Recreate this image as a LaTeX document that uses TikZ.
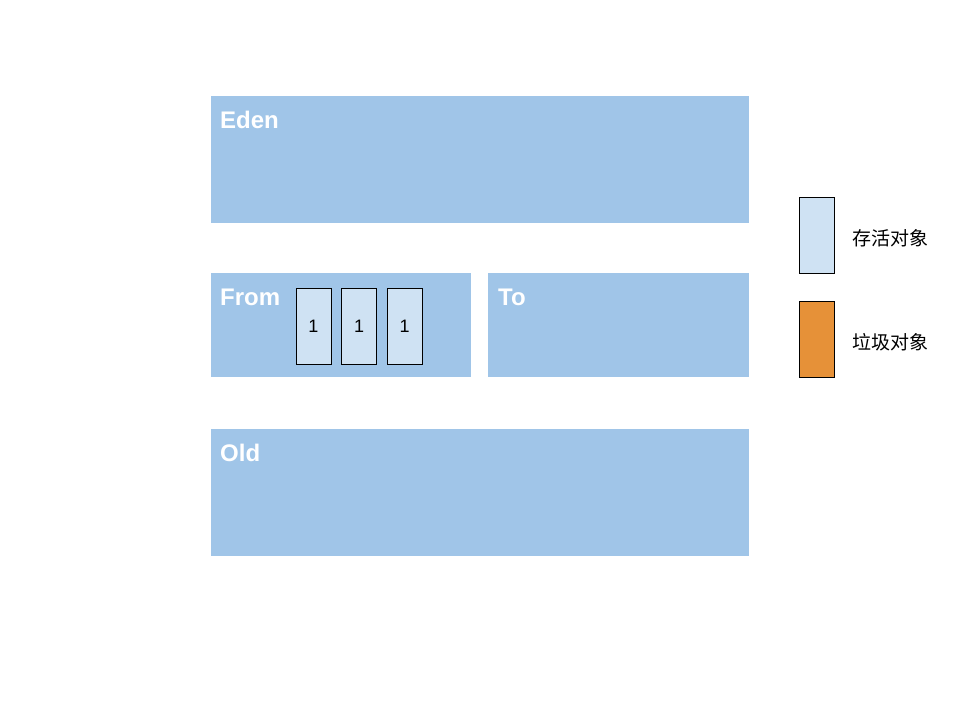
\documentclass[tikz,border=0pt]{standalone}
\usepackage{fontspec}
\setmainfont{Liberation Sans}
\newfontfamily\cjkfont{Noto Sans CJK SC}
\usetikzlibrary{positioning}
\definecolor{regionblue}{HTML}{A0C5E8}
\definecolor{aliveblue}{HTML}{CFE2F3}
\definecolor{garbageorange}{HTML}{E69138}
\tikzstyle{region} = [rectangle, anchor=north west, inner sep=0pt, fill=regionblue]
\tikzstyle{regionlabel} = [anchor=base west, inner sep=0pt, text=white, font=\fontsize{24}{28}\selectfont\bfseries]
\tikzstyle{alive} = [rectangle, minimum width=35pt, minimum height=76pt, inner sep=0pt, draw=black, line width=1pt, fill=aliveblue, font=\fontsize{18}{21}\selectfont]
\tikzstyle{garbage} = [alive, fill=garbageorange]
\tikzstyle{legendtext} = [anchor=west, inner sep=0pt, font=\cjkfont\fontsize{19}{22}\selectfont]

\begin{document}
\begin{tikzpicture}[x=1pt, y=-1pt, node distance=9.5pt]
\useasboundingbox (0,0) rectangle (960,720);

% Regions
\node (eden) [region, minimum width=538pt, minimum height=127pt] at (211,96) {};
\node (from) [region, minimum width=260pt, minimum height=104pt] at (211,273) {};
\node (to) [region, minimum width=261pt, minimum height=104pt] at (488,273) {};
\node (old) [region, minimum width=538pt, minimum height=127pt] at (211,429) {};

\node (edenLabel) [regionlabel] at (220,128) {Eden};
\node (fromLabel) [regionlabel] at (220,305) {From};
\node (toLabel) [regionlabel] at (498,305) {To};
\node (oldLabel) [regionlabel] at (220,461) {Old};

% Objects in From
\node (objA) [alive] at (313.5,326) {1};
\node (objB) [alive, right=of objA] {1};
\node (objC) [alive, right=of objB] {1};

% Legend
\node (aliveKey) [alive] at (816.5,235) {};
\node (garbageKey) [garbage] at (816.5,339) {};
\node (aliveText) [legendtext] at (852,238) {存活对象};
\node (garbageText) [legendtext] at (852,342) {垃圾对象};

\end{tikzpicture}
\end{document}
